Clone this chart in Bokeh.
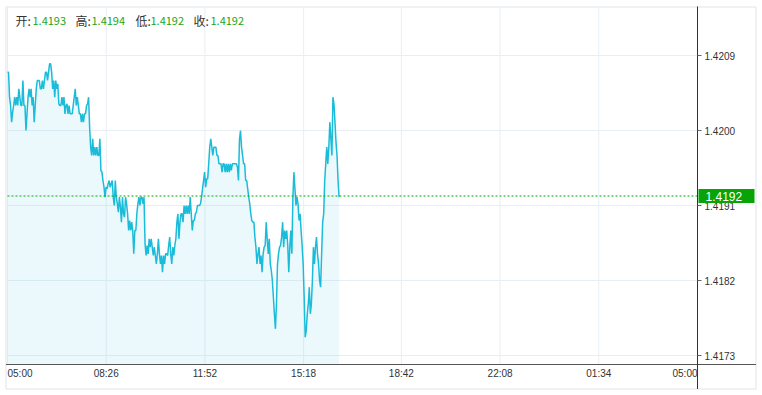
from bokeh.plotting import figure
from bokeh.models import Range1d
from bokeh.core.properties import value
from bokeh.embed import file_html
from bokeh.resources import INLINE

# ---- data ----
PRICES = [
    1.42070, 1.42070, 1.42040, 1.42030, 1.42010, 1.42022, 1.42030, 1.42040, 1.42030, 1.42040,
    1.42030, 1.42050, 1.42040, 1.42030, 1.42030, 1.42060, 1.42030, 1.42030, 1.42000, 1.42020,
    1.42040, 1.42050, 1.42040, 1.42050, 1.42030, 1.42040, 1.42010, 1.42030, 1.42050, 1.42060,
    1.42060, 1.42060, 1.42050, 1.42050, 1.42060, 1.42050, 1.42060, 1.42070, 1.42070, 1.42060,
    1.42070, 1.42080, 1.42080, 1.42070, 1.42050, 1.42060, 1.42040, 1.42060, 1.42050, 1.42056,
    1.42032, 1.42030, 1.42030, 1.42040, 1.42030, 1.42040, 1.42020, 1.42030, 1.42032, 1.42020,
    1.42030, 1.42020, 1.42020, 1.42020, 1.42030, 1.42040, 1.42050, 1.42030, 1.42040, 1.42030,
    1.42020, 1.42020, 1.42010, 1.42020, 1.42010, 1.42020, 1.42020, 1.42030, 1.42032, 1.42040,
    1.42004, 1.41980, 1.41970, 1.41990, 1.41970, 1.41980, 1.41970, 1.41980, 1.41970, 1.41970,
    1.41990, 1.41952, 1.41950, 1.41940, 1.41932, 1.41920, 1.41932, 1.41930, 1.41936, 1.41940,
    1.41932, 1.41936, 1.41940, 1.41920, 1.41910, 1.41940, 1.41920, 1.41912, 1.41902, 1.41920,
    1.41908, 1.41890, 1.41920, 1.41900, 1.41896, 1.41920, 1.41912, 1.41900, 1.41880, 1.41892,
    1.41880, 1.41890, 1.41880, 1.41852, 1.41880, 1.41880, 1.41900, 1.41912, 1.41920, 1.41910,
    1.41920, 1.41920, 1.41912, 1.41920, 1.41864, 1.41850, 1.41862, 1.41852, 1.41870, 1.41860,
    1.41870, 1.41860, 1.41850, 1.41860, 1.41850, 1.41840, 1.41852, 1.41870, 1.41852, 1.41840,
    1.41850, 1.41830, 1.41850, 1.41840, 1.41852, 1.41852, 1.41850, 1.41862, 1.41872, 1.41852,
    1.41840, 1.41860, 1.41850, 1.41862, 1.41870, 1.41890, 1.41900, 1.41870, 1.41890, 1.41900,
    1.41900, 1.41890, 1.41910, 1.41900, 1.41910, 1.41900, 1.41910, 1.41900, 1.41920, 1.41900,
    1.41880, 1.41892, 1.41892, 1.41900, 1.41902, 1.41910, 1.41910, 1.41910, 1.41912, 1.41920,
    1.41930, 1.41940, 1.41950, 1.41932, 1.41942, 1.41942, 1.41960, 1.41980, 1.41990, 1.41980,
    1.41970, 1.41980, 1.41980, 1.41980, 1.41970, 1.41970, 1.41960, 1.41960, 1.41960, 1.41950,
    1.41960, 1.41960, 1.41950, 1.41960, 1.41950, 1.41960, 1.41950, 1.41960, 1.41952, 1.41960,
    1.41960, 1.41960, 1.41960, 1.41960, 1.41956, 1.41940, 1.41990, 1.42000, 1.41980, 1.41970,
    1.41960, 1.41960, 1.41940, 1.41940, 1.41930, 1.41920, 1.41912, 1.41900, 1.41892, 1.41890,
    1.41890, 1.41872, 1.41860, 1.41840, 1.41852, 1.41860, 1.41840, 1.41850, 1.41830, 1.41852,
    1.41860, 1.41862, 1.41890, 1.41870, 1.41852, 1.41870, 1.41840, 1.41832, 1.41820, 1.41800,
    1.41780, 1.41762, 1.41792, 1.41840, 1.41852, 1.41860, 1.41862, 1.41872, 1.41890, 1.41860,
    1.41880, 1.41870, 1.41880, 1.41862, 1.41830, 1.41860, 1.41880, 1.41852, 1.41920, 1.41950,
    1.41930, 1.41910, 1.41920, 1.41912, 1.41892, 1.41900, 1.41880, 1.41862, 1.41840, 1.41800,
    1.41752, 1.41760, 1.41780, 1.41792, 1.41812, 1.41780, 1.41792, 1.41820, 1.41860, 1.41840,
    1.41860, 1.41872, 1.41852, 1.41840, 1.41820, 1.41812, 1.41852, 1.41890, 1.41900, 1.41940,
    1.41960, 1.41980, 1.41960, 1.41980, 1.42010, 1.41990, 1.41970, 1.42040, 1.42032, 1.42010,
    1.41986, 1.41970, 1.41940, 1.41920,
]
FIRST_MIN = 0      # 05:00
LAST_MIN = 692     # ~16:32
N = len(PRICES)
TIMES = [FIRST_MIN + (LAST_MIN - FIRST_MIN) * i / (N - 1) for i in range(N)]

X_TICKS = [0, 206, 412, 618, 822, 1028, 1234, 1440]
X_LABELS = ["05:00", "08:26", "11:52", "15:18", "18:42", "22:08", "01:34", "05:00"]
Y_TICKS = [1.4173, 1.4182, 1.4191, 1.4200, 1.4209]
Y_LABELS = ["1.4173", "1.4182", "1.4191", "1.4200", "1.4209"]
PLOT_TOP, PLOT_BOTTOM = 1.421488, 1.417192
X_START, X_END = 0, 1440
LAST_PRICE = 1.41922
LAST_LABEL = "1.4192"
HEADER_KEYS = ["开:", "高:", "低:", "收:"]
HEADER_VALS = ["1.4193", "1.4194", "1.4192", "1.4192"]

# ---- styling / layout ----
W, H = 762, 395
FRAME_L, FRAME_R, FRAME_T, FRAME_B = 7, 697, 6, 364
PXM = (FRAME_R - FRAME_L) / (X_END - X_START)          # px per minute
PXU = (FRAME_B - FRAME_T) / (PLOT_TOP - PLOT_BOTTOM)    # px per price unit
XR = Range1d(X_START - FRAME_L / PXM, X_END + (W - FRAME_R) / PXM)
YR = Range1d(PLOT_BOTTOM - (H - FRAME_B) / PXU, PLOT_TOP + FRAME_T / PXU)


def cx(px):  # canvas x pixel -> data
    return XR.start + px / PXM


def cy(py):  # canvas y pixel -> data
    return YR.end - py / PXU


LINE_COLOR = "#1abcd9"
GREEN_TXT = "#19a619"
GREEN_BOX = "#07a307"
GREEN_LINE = "#00b000"
GRID = "#e8eff4"
BORDER = "#dfe5ea"
TXT = "#333333"
FONT = "Liberation Sans"
CJK = "Noto Sans CJK SC"

p = figure(width=W, height=H, x_range=XR, y_range=YR, x_axis_location=None, y_axis_location=None,
           output_backend="svg", toolbar_location=None, min_border=0)
p.background_fill_color = "white"
p.border_fill_color = "white"
p.outline_line_color = None
p.grid.visible = False

# outer border
p.quad(left=[cx(5.5)], right=[cx(755.5)], top=[cy(6.5)], bottom=[cy(388.5)],
       fill_color=None, line_color=BORDER, line_width=1)

# grid
p.segment(x0=X_TICKS, x1=X_TICKS, y0=[PLOT_BOTTOM] * len(X_TICKS), y1=[PLOT_TOP] * len(X_TICKS),
          line_color=GRID, line_width=1)
p.segment(x0=[X_START] * len(Y_TICKS), x1=[X_END] * len(Y_TICKS), y0=Y_TICKS, y1=Y_TICKS,
          line_color=GRID, line_width=1)

# series
p.varea(x=TIMES, y1=[PLOT_BOTTOM] * N, y2=PRICES, fill_color=LINE_COLOR, fill_alpha=0.085)
p.line(TIMES, PRICES, line_color=LINE_COLOR, line_width=1.5)

# current price dotted line (half-pixel aligned for a crisp 1px line)
ly = LAST_PRICE - 0.5 / PXU
p.line([X_START, X_END], [ly, ly], line_color=GREEN_LINE, line_dash="2 2", line_width=1)

# axis lines
p.segment(x0=[cx(5.5)], x1=[cx(755.5)], y0=[PLOT_BOTTOM], y1=[PLOT_BOTTOM],
          line_color="#555555", line_width=1)
p.segment(x0=[X_END], x1=[X_END], y0=[PLOT_TOP], y1=[cy(388.5)],
          line_color="#333333", line_width=1)

# y ticks + labels
p.segment(x0=[X_END] * len(Y_TICKS), x1=[X_END + 4 / PXM] * len(Y_TICKS), y0=Y_TICKS, y1=Y_TICKS,
          line_color="#666666", line_width=1)
p.text(x=[X_END + 7 / PXM] * len(Y_TICKS), y=Y_TICKS, text=Y_LABELS, text_font=value(FONT),
       text_font_size="10px", text_color=TXT, text_align="left", text_baseline="middle")

# x labels
lab_y = PLOT_BOTTOM - 8.5 / PXU
p.text(x=X_TICKS[1:-1], y=[lab_y] * (len(X_TICKS) - 2), text=X_LABELS[1:-1], text_font=value(FONT),
       text_font_size="10px", text_color=TXT, text_align="center", text_baseline="middle")
p.text(x=[X_TICKS[0]], y=[lab_y], text=[X_LABELS[0]], text_font=value(FONT),
       text_font_size="10px", text_color=TXT, text_align="left", text_baseline="middle")
p.text(x=[X_TICKS[-1]], y=[lab_y], text=[X_LABELS[-1]], text_font=value(FONT),
       text_font_size="10px", text_color=TXT, text_align="right", text_baseline="middle")

# last price tag
p.quad(left=[X_END + 1 / PXM], right=[X_END + 57 / PXM], top=[LAST_PRICE + 6.5 / PXU],
       bottom=[LAST_PRICE - 7.5 / PXU], fill_color=GREEN_BOX, line_color=None)
p.text(x=[X_END + 8 / PXM], y=[LAST_PRICE - 1 / PXU], text=[LAST_LABEL], text_font=value(FONT),
       text_font_size="12px", text_color="white", text_align="left", text_baseline="middle")

# header
key_px = [15, 75, 135, 193]
val_px = [32, 91, 150, 210]
p.text(x=[cx(v) for v in key_px], y=[cy(20)] * 4, text=HEADER_KEYS, text_font=value(CJK),
       text_font_size="12px", text_color=TXT, text_align="left", text_baseline="middle")
p.text(x=[cx(v) for v in val_px], y=[cy(20)] * 4, text=HEADER_VALS, text_font=value(CJK),
       text_font_size="11px", text_color=GREEN_TXT, text_align="left", text_baseline="middle")

open("out.html", "w").write(file_html(p, INLINE))
